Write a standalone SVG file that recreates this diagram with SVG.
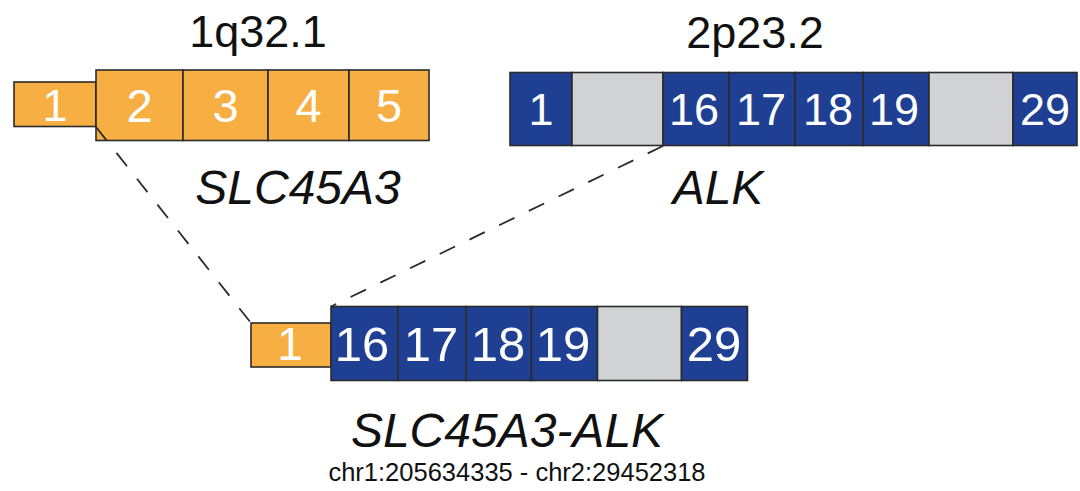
<svg xmlns="http://www.w3.org/2000/svg" width="1080" height="491" viewBox="0 0 1080 491">
  <style>
    .slc { fill: #F7AE42; stroke: #2b2b2b; stroke-width: 1.6; }
    .alk { fill: #1F3F93; stroke: #2b2b2b; stroke-width: 1.6; }
    .gap { fill: #D1D2D4; stroke: #2b2b2b; stroke-width: 1.6; }
    .num { font-family: "Liberation Sans", Arial, sans-serif; fill: #ffffff; text-anchor: middle; }
    .band { font-family: "Liberation Sans", Arial, sans-serif; font-size: 45px; fill: #111; text-anchor: middle; }
    .gene { font-family: "Liberation Sans", Arial, sans-serif; font-size: 48px; font-style: italic; fill: #111; text-anchor: middle; }
    .coord { font-family: "Liberation Sans", Arial, sans-serif; font-size: 25.5px; fill: #111; text-anchor: middle; }
    .link { fill: none; stroke: #2b2b2b; stroke-width: 1.8; stroke-dasharray: 17 16; }
  </style>

  <!-- SLC45A3 gene (1q32.1) -->
  <g id="slc45a3">
    <text class="band" x="258" y="47">1q32.1</text>
    <rect class="slc" x="14" y="82" width="82" height="44.5"/>
    <rect class="slc" x="96" y="70" width="87" height="70.5"/>
    <rect class="slc" x="183" y="70" width="85" height="70.5"/>
    <rect class="slc" x="268" y="70" width="81" height="70.5"/>
    <rect class="slc" x="349" y="70" width="80" height="70.5"/>
    <g class="num" font-size="45">
      <text x="55" y="120.5">1</text>
    </g>
    <g class="num" font-size="47">
      <text x="139.5" y="122">2</text>
      <text x="225.5" y="122">3</text>
      <text x="308.5" y="122">4</text>
      <text x="389" y="122">5</text>
    </g>
    <text class="gene" x="298" y="204">SLC45A3</text>
  </g>

  <!-- ALK gene (2p23.2) -->
  <g id="alk">
    <text class="band" x="755" y="48">2p23.2</text>
    <rect class="alk" x="510" y="72.5" width="62" height="73"/>
    <rect class="gap" x="572" y="72.5" width="91" height="73"/>
    <rect class="alk" x="663" y="72.5" width="66" height="73"/>
    <rect class="alk" x="729" y="72.5" width="66" height="73"/>
    <rect class="alk" x="795" y="72.5" width="68" height="73"/>
    <rect class="alk" x="863" y="72.5" width="66" height="73"/>
    <rect class="gap" x="929" y="72.5" width="84" height="73"/>
    <rect class="alk" x="1013" y="72.5" width="64" height="73"/>
    <g class="num" font-size="45">
      <text x="541" y="125">1</text>
      <text x="694" y="125">16</text>
      <text x="761" y="125">17</text>
      <text x="828" y="125">18</text>
      <text x="894" y="125">19</text>
      <text x="1045" y="125">29</text>
    </g>
    <text class="gene" x="718" y="204">ALK</text>
  </g>

  <!-- SLC45A3-ALK fusion -->
  <g id="fusion">
    <rect class="slc" x="251" y="323" width="80" height="44"/>
    <rect class="alk" x="331" y="306.5" width="67" height="74"/>
    <rect class="alk" x="398" y="306.5" width="68" height="74"/>
    <rect class="alk" x="466" y="306.5" width="65.5" height="74"/>
    <rect class="alk" x="531.5" y="306.5" width="66" height="74"/>
    <rect class="gap" x="597.5" y="306.5" width="84" height="74"/>
    <rect class="alk" x="681.5" y="306.5" width="66" height="74"/>
    <g class="num" font-size="46">
      <text x="290" y="360">1</text>
    </g>
    <g class="num" font-size="49">
      <text x="362" y="361">16</text>
      <text x="431" y="361">17</text>
      <text x="498" y="361">18</text>
      <text x="563" y="361">19</text>
      <text x="714" y="361">29</text>
    </g>
    <text class="gene" x="507" y="447">SLC45A3-ALK</text>
    <text class="coord" x="517" y="481">chr1:205634335 - chr2:29452318</text>
  </g>

  <!-- breakpoint connectors -->
  <g id="connectors">
    <line class="link" x1="96" y1="127" x2="251" y2="323"/>
    <line class="link" x1="663" y1="146" x2="331" y2="306.5"/>
  </g>
</svg>
